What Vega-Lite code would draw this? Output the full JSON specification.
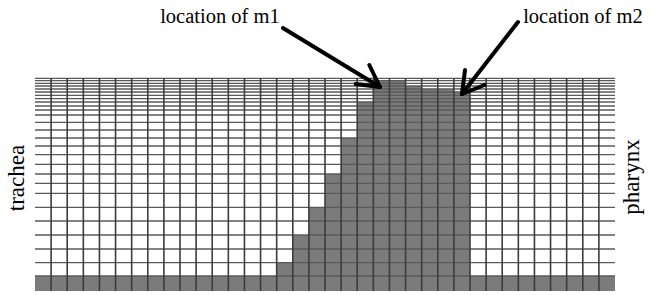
{
  "$schema": "https://vega.github.io/schema/vega-lite/v6.json",
  "width": 580,
  "height": 213,
  "autosize": "none",
  "padding": {"left": 35, "top": 78, "right": 39, "bottom": 4},
  "background": "white",
  "config": {"view": {"stroke": null}},
  "datasets": {
    "cols": [
      {"c0": 0, "c1": 1, "top": 15}, {"c0": 1, "c1": 2, "top": 15}, {"c0": 2, "c1": 3, "top": 15},
      {"c0": 3, "c1": 4, "top": 15}, {"c0": 4, "c1": 5, "top": 15}, {"c0": 5, "c1": 6, "top": 15},
      {"c0": 6, "c1": 7, "top": 15}, {"c0": 7, "c1": 8, "top": 15}, {"c0": 8, "c1": 9, "top": 15},
      {"c0": 9, "c1": 10, "top": 15}, {"c0": 10, "c1": 11, "top": 15}, {"c0": 11, "c1": 12, "top": 15},
      {"c0": 12, "c1": 13, "top": 15}, {"c0": 13, "c1": 14, "top": 15}, {"c0": 14, "c1": 15, "top": 15},
      {"c0": 15, "c1": 16, "top": 28.3}, {"c0": 16, "c1": 17, "top": 56}, {"c0": 17, "c1": 18, "top": 83.7},
      {"c0": 18, "c1": 19, "top": 117}, {"c0": 19, "c1": 20, "top": 153}, {"c0": 20, "c1": 21, "top": 189},
      {"c0": 21, "c1": 22, "top": 210.3}, {"c0": 22, "c1": 23, "top": 210.3}, {"c0": 23, "c1": 24, "top": 205},
      {"c0": 24, "c1": 25, "top": 202}, {"c0": 25, "c1": 26, "top": 202}, {"c0": 26, "c1": 27, "top": 199},
      {"c0": 27, "c1": 28, "top": 15}, {"c0": 28, "c1": 29, "top": 15}, {"c0": 29, "c1": 30, "top": 15},
      {"c0": 30, "c1": 31, "top": 15}, {"c0": 31, "c1": 32, "top": 15}, {"c0": 32, "c1": 33, "top": 15},
      {"c0": 33, "c1": 34, "top": 15}, {"c0": 34, "c1": 35, "top": 15}, {"c0": 35, "c1": 36, "top": 15}
    ],
    "hlines": [
      {"h": 15}, {"h": 28.3}, {"h": 42}, {"h": 56}, {"h": 70}, {"h": 83.7},
      {"h": 97.7}, {"h": 107.7}, {"h": 117}, {"h": 126.7}, {"h": 136.3}, {"h": 145}, {"h": 153},
      {"h": 161}, {"h": 168.7}, {"h": 176}, {"h": 181}, {"h": 185}, {"h": 189}, {"h": 192.3},
      {"h": 195.7}, {"h": 199}, {"h": 202}, {"h": 205}, {"h": 207.7}, {"h": 210.3}, {"h": 212.6}
    ],
    "vlines": [
      {"c": 1}, {"c": 2}, {"c": 3}, {"c": 4}, {"c": 5}, {"c": 6}, {"c": 7}, {"c": 8}, {"c": 9},
      {"c": 10}, {"c": 11}, {"c": 12}, {"c": 13}, {"c": 14}, {"c": 15}, {"c": 16}, {"c": 17},
      {"c": 18}, {"c": 19}, {"c": 20}, {"c": 21}, {"c": 22}, {"c": 23}, {"c": 24}, {"c": 25},
      {"c": 26}, {"c": 27}, {"c": 28}, {"c": 29}, {"c": 30}, {"c": 31}, {"c": 32}, {"c": 33},
      {"c": 34}, {"c": 35}
    ],
    "arrows": [
      {"xa": 15.39, "ya": 263, "xb": 21.41, "yb": 204},
      {"xa": 19.9, "ya": 207, "xb": 21.41, "yb": 204},
      {"xa": 20.75, "ya": 226, "xb": 21.41, "yb": 204},
      {"xa": 29.98, "ya": 269, "xb": 26.5, "yb": 197},
      {"xa": 27.9, "ya": 206, "xb": 26.5, "yb": 197},
      {"xa": 26.69, "ya": 221, "xb": 26.5, "yb": 197}
    ],
    "labels": [
      {"x": 11.48, "y": 274, "t": "location of m1"},
      {"x": 34.01, "y": 274, "t": "location of m2"}
    ],
    "sides": [
      {"x": -1.12, "y": 113, "t": "trachea"},
      {"x": 37.06, "y": 114, "t": "pharynx"}
    ]
  },
  "layer": [
    {
      "data": {"name": "cols"},
      "mark": {"type": "rect", "color": "#7b7b7b"},
      "encoding": {
        "x": {"field": "c0", "type": "quantitative", "scale": {"domain": [0, 36], "nice": false, "zero": false}, "axis": null},
        "x2": {"field": "c1"},
        "y": {"field": "top", "type": "quantitative", "scale": {"domain": [0, 213], "nice": false, "zero": false}, "axis": null},
        "y2": {"datum": 0}
      }
    },
    {
      "data": {"name": "hlines"},
      "mark": {"type": "rule", "color": "#5a5a5a", "strokeWidth": 1.3},
      "encoding": {
        "y": {"field": "h", "type": "quantitative", "scale": {"domain": [0, 213], "nice": false, "zero": false}, "axis": null}
      }
    },
    {
      "data": {"name": "vlines"},
      "mark": {"type": "rule", "color": "#3c3c3c", "strokeWidth": 1.6},
      "encoding": {
        "x": {"field": "c", "type": "quantitative", "scale": {"domain": [0, 36], "nice": false, "zero": false}, "axis": null}
      }
    },
    {
      "data": {"name": "arrows"},
      "mark": {"type": "rule", "color": "#000000", "strokeWidth": 4, "strokeCap": "round"},
      "encoding": {
        "x": {"field": "xa", "type": "quantitative", "scale": {"domain": [0, 36], "nice": false, "zero": false}, "axis": null},
        "y": {"field": "ya", "type": "quantitative", "scale": {"domain": [0, 213], "nice": false, "zero": false}, "axis": null},
        "x2": {"field": "xb"},
        "y2": {"field": "yb"}
      }
    },
    {
      "data": {"name": "labels"},
      "mark": {"type": "text", "font": "Liberation Serif", "fontSize": 20.5, "color": "#000000", "align": "center", "baseline": "middle"},
      "encoding": {
        "x": {"field": "x", "type": "quantitative", "scale": {"domain": [0, 36], "nice": false, "zero": false}, "axis": null},
        "y": {"field": "y", "type": "quantitative", "scale": {"domain": [0, 213], "nice": false, "zero": false}, "axis": null},
        "text": {"field": "t"}
      }
    },
    {
      "data": {"name": "sides"},
      "mark": {"type": "text", "font": "Liberation Serif", "fontSize": 23, "color": "#000000", "align": "center", "baseline": "middle", "angle": 270},
      "encoding": {
        "x": {"field": "x", "type": "quantitative", "scale": {"domain": [0, 36], "nice": false, "zero": false}, "axis": null},
        "y": {"field": "y", "type": "quantitative", "scale": {"domain": [0, 213], "nice": false, "zero": false}, "axis": null},
        "text": {"field": "t"}
      }
    }
  ]
}
